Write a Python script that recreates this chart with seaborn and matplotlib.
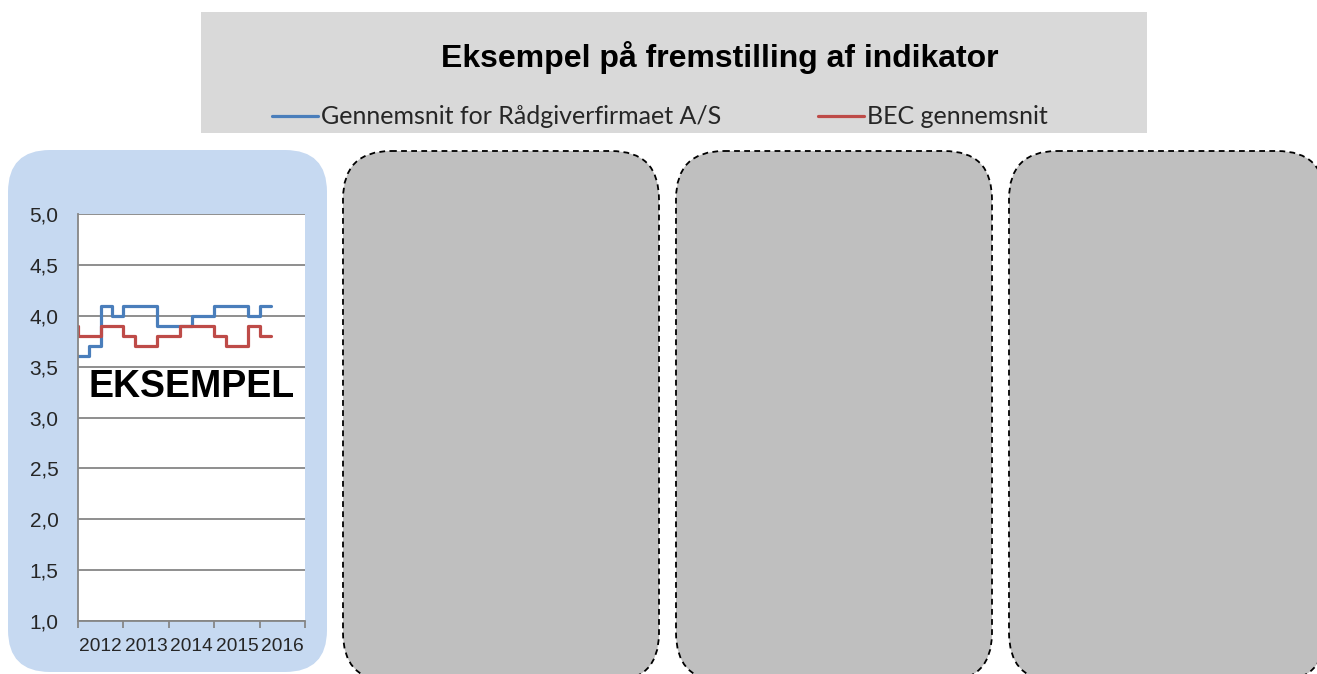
import numpy as np
import pandas as pd
import matplotlib
matplotlib.use("Agg")
import matplotlib.pyplot as plt
from matplotlib.patches import FancyBboxPatch, Rectangle
from matplotlib.ticker import FixedLocator, FuncFormatter
import seaborn as sns

# Data (quarterly values, step line)
kvartal = list(range(18))
raadgiver = [3.6, 3.6, 3.7, 4.1, 4.0, 4.1, 4.1, 4.1, 3.9, 3.9, 3.9,
             4.0, 4.0, 4.1, 4.1, 4.1, 4.0, 4.1]
bec = [3.9, 3.8, 3.8, 3.9, 3.9, 3.8, 3.7, 3.7, 3.8, 3.8, 3.9,
       3.9, 3.9, 3.8, 3.7, 3.7, 3.9, 3.8]
aar = ['2012', '2013', '2014', '2015', '2016']
serier = ['Gennemsnit for Rådgiverfirmaet A/S', 'BEC gennemsnit']
farver = ['#4a7ebb', '#be4b48']

df = pd.concat([
    pd.DataFrame({'kvartal': kvartal, 'værdi': raadgiver, 'serie': serier[0]}),
    pd.DataFrame({'kvartal': kvartal, 'værdi': bec, 'serie': serier[1]}),
])

sns.set_style('white')
plt.rcParams['font.family'] = ['Liberation Sans', 'DejaVu Sans']

W, H = 1317, 674
fig = plt.figure(figsize=(W / 100, H / 100), dpi=100)

# background layer in pixel coordinates
bg = fig.add_axes([0, 0, 1, 1], zorder=0)
bg.set_xlim(0, W)
bg.set_ylim(H, 0)
bg.axis('off')

bg.add_patch(Rectangle((201, 12), 946, 121, facecolor='#d9d9d9', edgecolor='none'))
bg.add_patch(FancyBboxPatch((8 + 42, 150 + 42), 319 - 84, 522 - 84,
                            boxstyle='round,pad=42', facecolor='#c6d9f1',
                            edgecolor='none'))
for x0 in [343, 676, 1009]:
    bg.add_patch(FancyBboxPatch((x0 + 48, 151 + 48), 316 - 96, 530 - 96,
                                boxstyle='round,pad=48', facecolor='#bfbfbf',
                                edgecolor='black', linewidth=1.3,
                                linestyle=(0, (3.2, 2.4))))

bg.text(720, 57, 'Eksempel på fremstilling af indikator', ha='center',
        va='center', fontsize=23, fontweight='bold', color='black')

# the chart
ax = fig.add_axes([78 / W, 1 - 621 / H, 227 / W, 407 / H], zorder=2)
sns.lineplot(data=df, x='kvartal', y='værdi', hue='serie', hue_order=serier,
             palette=farver, drawstyle='steps-pre', linewidth=2.3,
             legend=False, ax=ax)
ax.set_xlim(0, 20)
ax.set_ylim(1.0, 5.0)
ax.set_xlabel('')
ax.set_ylabel('')

ax.yaxis.set_major_locator(FixedLocator(np.arange(1.0, 5.01, 0.5)))
ax.yaxis.set_major_formatter(FuncFormatter(lambda v, p: f'{v:.1f}'.replace('.', ',')))
ax.grid(axis='y', color='#868686', linewidth=1.3)
ax.set_axisbelow(True)

ax.xaxis.set_major_locator(FixedLocator([0, 4, 8, 12, 16, 20]))
ax.xaxis.set_minor_locator(FixedLocator([2, 6, 10, 14, 18]))
ax.set_xticklabels([])
ax.set_xticklabels(aar, minor=True)
ax.tick_params(axis='x', which='major', length=5, width=1.3, color='#868686',
               direction='out', bottom=True)
ax.tick_params(axis='x', which='minor', length=0, pad=12.5, labelsize=13.8)
ax.tick_params(axis='y', length=0, pad=14, labelsize=15)

for side in ['top', 'right']:
    ax.spines[side].set_visible(False)
for side in ['left', 'bottom']:
    ax.spines[side].set_color('#868686')
    ax.spines[side].set_linewidth(1.3)
ax.set_facecolor('white')

ax.text(0.5, 0.575, 'EKSEMPEL', transform=ax.transAxes, ha='center',
        va='center', fontsize=27, fontweight='bold', color='black')

# legend inside the title box
linjer = ax.get_lines()
for ln, navn, xpos in zip(linjer, serier, [272, 818]):
    leg = fig.legend([ln], [navn], loc='center left',
                     bbox_to_anchor=(xpos / W, 1 - 117 / H), frameon=False,
                     borderpad=0, borderaxespad=0, handlelength=1.85,
                     handletextpad=0.1, prop={'family': 'Lato', 'size': 18})

fig.savefig('out.png', dpi=100)
